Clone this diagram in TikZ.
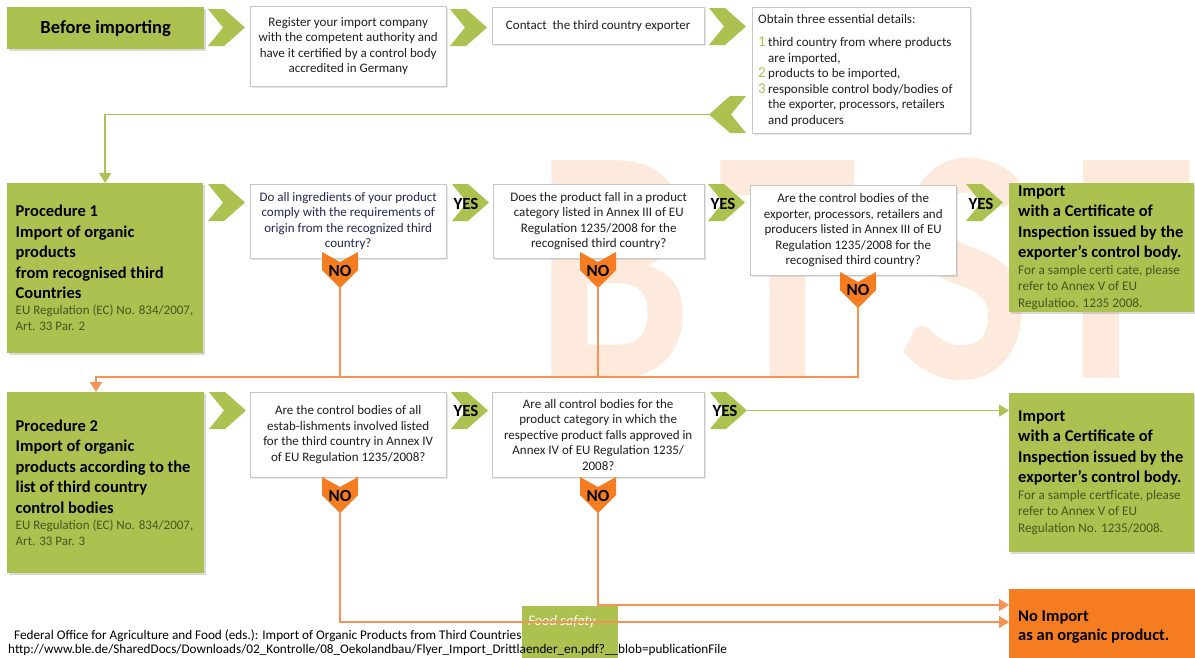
\documentclass[tikz,border=0pt]{standalone}
\usepackage{fontspec}
\setmainfont{Carlito}
\usetikzlibrary{arrows.meta,shadows}

\definecolor{leaf}{RGB}{171,194,80}
\definecolor{tang}{RGB}{245,124,32}
\definecolor{wire}{RGB}{248,146,84}
\definecolor{moss}{RGB}{70,86,30}
\definecolor{peach}{RGB}{253,234,220}
\definecolor{ink}{RGB}{35,40,85}

\newcommand\fsz[2]{\fontsize{#1}{#2}\selectfont}
\newcommand\numb[1]{\makebox[10pt][l]{\textcolor{leaf}{\fsz{15}{15}#1}}}

\tikzset{
  chevr/.pic={\fill[leaf] (0,0) -- (16,0) -- (37,18.5) -- (16,37) -- (0,37) -- (15,18.5) -- cycle;},
  nochev/.pic={\fill[tang] (-18,0) -- (0,10) -- (18,0) -- (18,18) -- (0,36) -- (-18,18) -- cycle;}
}

\begin{document}
\begin{tikzpicture}[x=1pt,y=-1pt,
  qbox/.style={draw=black!22,fill=white,anchor=north west,align=center,inner sep=0pt,
    font=\fsz{13}{15.5},text=black!88,
    drop shadow={shadow xshift=1.5pt,shadow yshift=-1.5pt,opacity=0.2}},
  gbox/.style={fill=leaf,anchor=north west,inner sep=0pt,
    drop shadow={shadow xshift=1.5pt,shadow yshift=-1.5pt,opacity=0.3}},
  gtext/.style={align=flush left,font=\fsz{16.5}{20.5}\bfseries,
    execute at begin node={\leftskip=#1\relax}},
  verdict/.style={font=\fsz{17}{17}\bfseries,inner sep=0pt},
  gline/.style={leaf,line width=1.5pt,-{Triangle[length=10pt,width=12pt]}},
  oline/.style={wire,line width=1.4pt},
  wm/.style={text=peach,font=\fsz{40}{40}\bfseries,inner sep=0pt,anchor=base,xscale=7,yscale=8.4}
]
\useasboundingbox (0,0) rectangle (1195,657);

% watermark
\node[wm] (wb) at (614,378) {B};
\node[wm] (wt) at (788,378) {T};
\node[wm] (ws) at (965,378) {S};
\node[wm] (wf) at (1133,378) {F};

% before importing
\node[gbox,minimum width=197pt,minimum height=42pt,font=\fsz{18.5}{20}\bfseries] (start) at (7,7) {Before importing};
\pic at (208,9) {chevr};
\node[qbox,minimum width=196pt,minimum height=80pt] (reg) at (250,6)
  {Register your import company\\with the competent authority and\\have it certified by a control body\\accredited in Germany};
\pic at (450,9) {chevr};
\node[qbox,minimum width=212pt,minimum height=37pt] (contact) at (492,7) {Contact\ \ the third country exporter};
\pic at (709,8) {chevr};
\node[qbox,minimum width=218pt,minimum height=126pt,text width=206pt,align=flush left] (obtain) at (752,7)
  {Obtain three essential details:\\[8pt]
   \numb{1}third country from where products\\
   \hspace*{10pt}are imported,\\
   \numb{2}products to be imported,\\
   \numb{3}responsible control body/bodies of\\
   \hspace*{10pt}the exporter, processors, retailers\\
   \hspace*{10pt}and producers};
\pic[xscale=-1] at (746,96) {chevr};
\coordinate (back) at (710,114.5);

% procedure 1
\node[gbox,gtext=8.5pt,minimum width=196pt,minimum height=170pt,text width=196pt] (proc1) at (7,183)
  {Procedure 1\\Import of organic\\products\\from recognised third\\Countries\par
   \fsz{13}{16}\mdseries\color{moss}EU Regulation (EC) No. 834/2007,\\Art. 33 Par. 2\par};
\pic at (208,184) {chevr};
\node[qbox,minimum width=196pt,minimum height=74pt,text=ink] (q1) at (250,184)
  {Do all ingredients of your product\\comply with the requirements of\\origin from the recognized third\\country?};
\pic at (452,184) {chevr};
\node[verdict] (yes1) at (466,204) {YES};
\node[qbox,minimum width=211pt,minimum height=74pt] (q2) at (493,184)
  {Does the product fall in a product\\category listed in Annex III of EU\\Regulation 1235/2008 for the\\recognised third country?};
\pic at (708,184) {chevr};
\node[verdict] (yes2) at (723,204) {YES};
\node[qbox,minimum width=206pt,minimum height=90pt] (q3) at (750,185)
  {Are the control bodies of the\\exporter, processors, retailers and\\producers listed in Annex III of EU\\Regulation 1235/2008 for the\\recognised third country?};
\pic at (966,184) {chevr};
\node[verdict] (yes3) at (981,204) {YES};
\node[gbox,gtext=9pt,minimum width=185pt,minimum height=129pt,text width=185pt] (imp1) at (1009,183)
  {Import\\with a Certificate of\\Inspection issued by the\\exporter’s control body.\par
   \fsz{13.2}{16.5}\mdseries\color{moss}For a sample certi cate, please\\refer to Annex V of EU\\Regulatioo. 1235 2008.\par};
\pic at (340,252) {nochev};
\node[verdict] (no1) at (340,271) {NO};
\coordinate (n1) at (340,288);
\pic at (598,252) {nochev};
\node[verdict] (no2) at (598,271) {NO};
\coordinate (n2) at (598,288);
\pic at (858,272) {nochev};
\node[verdict] (no3) at (858,290) {NO};
\coordinate (n3) at (858,308);

% procedure 2
\node[gbox,gtext=8.5pt,minimum width=197pt,minimum height=181pt,text width=197pt] (proc2) at (7,392)
  {Procedure 2\\Import of organic\\products according to the\\list of third country\\control bodies\par
   \fsz{13}{16}\mdseries\color{moss}EU Regulation (EC) No. 834/2007,\\Art. 33 Par. 3\par};
\pic at (209,392) {chevr};
\node[qbox,minimum width=196pt,minimum height=85pt] (q4) at (250,392)
  {Are the control bodies of all\\estab-lishments involved listed\\for the third country in Annex IV\\of EU Regulation 1235/2008?};
\pic at (451,392) {chevr};
\node[verdict] (yes4) at (466,411) {YES};
\node[qbox,minimum width=212pt,minimum height=85pt] (q5) at (492,392)
  {Are all control bodies for the\\product category in which the\\respective product falls approved in\\Annex IV of EU Regulation 1235/\\2008?};
\pic at (710,392) {chevr};
\node[verdict] (yes5) at (725,411) {YES};
\coordinate (t5) at (747,410.5);
\node[gbox,gtext=9pt,minimum width=185pt,minimum height=159pt,text width=185pt] (imp2) at (1009,393)
  {Import\\with a Certificate of\\Inspection issued by the\\exporter’s control body.\par
   \fsz{13.2}{16.5}\mdseries\color{moss}For a sample certficate, please\\refer to Annex V of EU\\Regulation No. 1235/2008.\par};
\pic at (340,477) {nochev};
\node[verdict] (no4) at (340,496) {NO};
\coordinate (n4) at (340,513);
\pic at (598,477) {nochev};
\node[verdict] (no5) at (598,496) {NO};
\coordinate (n5) at (598,513);

% bottom
\node[fill=leaf,anchor=north west,minimum width=96pt,minimum height=55pt,inner sep=0pt] (food) at (522,606) {};
\node[anchor=west,inner sep=0pt,text=white,font=\fsz{14.5}{14.5}\itshape] (foodtxt) at (528,622) {Food safety};
\node[fill=tang,anchor=north west,minimum width=186pt,minimum height=75pt,text width=186pt,inner sep=0pt,
  align=flush left,font=\fsz{16.5}{19}\bfseries,execute at begin node={\leftskip=9pt\relax}] (noimp) at (1009,589)
  {No Import\\as an organic product.};

% connectors
\draw[gline] (back) -| (proc1.north);
\draw[gline] (t5) -- (t5 -| imp2.west);
\coordinate (bus) at (96,377);
\draw[oline,-{Triangle[length=10pt,width=12pt]}] (n3) |- (bus) -- (bus |- proc2.north);
\draw[oline] (n1) -- (n1 |- bus);
\draw[oline] (n2) -- (n2 |- bus);
\draw[oline,-{Triangle[length=10pt,width=12pt]}] (n5) |- ([yshift=-16pt]noimp.north west);
\draw[oline,-{Triangle[length=10pt,width=12pt]}] (n4) |- ([yshift=-33pt]noimp.north west);

% source
\node[anchor=base west,inner sep=0pt,font=\fsz{13.2}{14}] (src) at (14,639)
  {Federal Office for Agriculture and Food (eds.): Import of Organic Products from Third Countries};
\node[anchor=base west,inner sep=0pt,font=\fsz{13.2}{14}] (url) at (8,653)
  {http://www.ble.de/SharedDocs/Downloads/02\_Kontrolle/08\_Oekolandbau/Flyer\_Import\_Drittlaender\_en.pdf?\_\_blob=publicationFile};
\end{tikzpicture}
\end{document}
